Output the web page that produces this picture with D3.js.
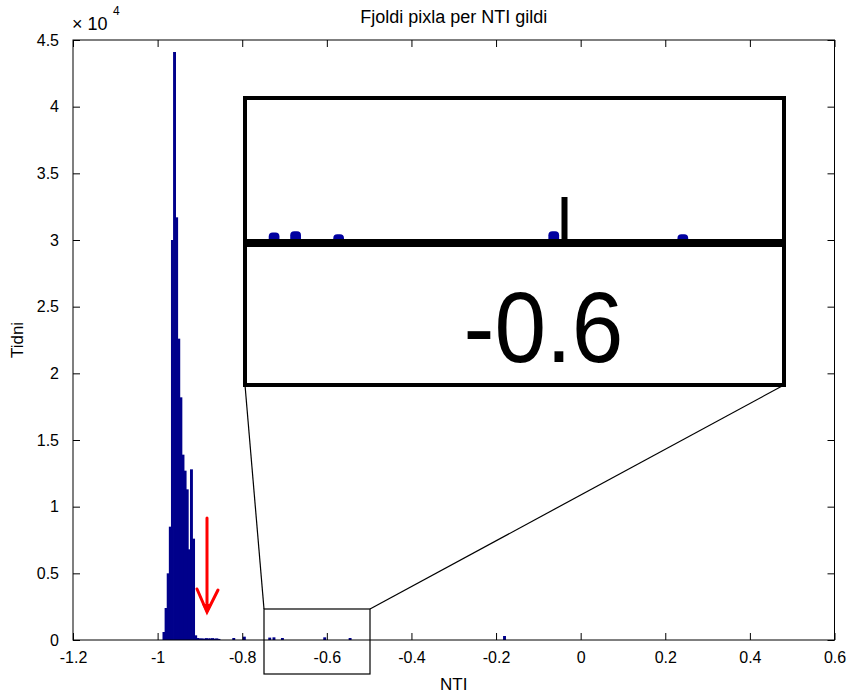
<!DOCTYPE html>
<html>
<head>
<meta charset="utf-8">
<script src="https://cdn.jsdelivr.net/npm/d3@7"></script>
<style>
  body { margin: 0; background: white; }
  text { font-family: "Liberation Sans", Arial, sans-serif; fill: black; }
</style>
</head>
<body>
<div id="chart"></div>
<script>
//Size of the page
var w=849;
var h=693;

//Histogram bins (left edge of each bin, width 0.005) and pixel counts
var binWidth=0.005;
var binLeft=[-0.9875,-0.9825,-0.9775,-0.9725,-0.9675,-0.9625,-0.9575,-0.9525,-0.9475,-0.9425,
             -0.9375,-0.9325,-0.9275,-0.9225,-0.9175,
             -0.9125,-0.9075,-0.9025,-0.8975,-0.8925,-0.8875,-0.8825,-0.8775,-0.8725,-0.8675,
             -0.8625,-0.8575,-0.8225,-0.7975,-0.7375,-0.7275,-0.7075,-0.6075,-0.5475,-0.1825];
var counts=[600,2400,5000,8500,30000,44100,31700,22600,18200,13900,
            12700,11300,6800,12800,7600,
            350,150,120,120,100,140,120,120,140,100,
            120,80,150,250,180,200,150,200,150,300];

//Ticks
var xTicks=[-1.2,-1,-0.8,-0.6,-0.4,-0.2,0,0.2,0.4,0.6];
var xTickLabels=["-1.2","-1","-0.8","-0.6","-0.4","-0.2","0","0.2","0.4","0.6"];
var yTicks=[0,5000,10000,15000,20000,25000,30000,35000,40000,45000];
var yTickLabels=["0","0.5","1","1.5","2","2.5","3","3.5","4","4.5"];

//Texts
var title="Fjoldi pixla per NTI gildi";
var xLabel="NTI";
var yLabel="Tidni";
var insetLabel="-0.6";

//Tick shown magnified in the inset
var zoomCenterTick=-0.6;

var barColor="#00008b";

var svg=d3.select("#chart")
          .append("svg")
          .attr("width",w)
          .attr("height",h);

//Plot area (pixels)
var pLeft=73, pRight=834.5, pTop=40, pBottom=640;

var x=d3.scaleLinear().domain([-1.2,0.6]).range([pLeft,pRight]);
var y=d3.scaleLinear().domain([0,45000]).range([pBottom,pTop]);

//Bars (a little overlap closes the seams between bins)
svg.append("g")
   .selectAll("rect")
   .data(binLeft)
   .enter()
   .append("rect")
   .attr("x",function(d) {return x(d)-0.4;})
   .attr("width",function(d) {return x(d+binWidth)-x(d)+0.8;})
   .attr("y",function(d,i) {return y(counts[i]);})
   .attr("height",function(d,i) {return y(0)-y(counts[i]);})
   .attr("fill",barColor);

//Axes box
svg.append("rect")
   .attr("x",pLeft)
   .attr("y",pTop)
   .attr("width",pRight-pLeft)
   .attr("height",pBottom-pTop)
   .attr("fill","none")
   .attr("stroke","black")
   .attr("stroke-width",1);

//Ticks (inside, MATLAB style) on all four sides
var tl=7;
var xAxisB=d3.axisBottom(x).tickValues(xTicks).tickSizeInner(-tl).tickSizeOuter(0)
             .tickFormat(function(d,i) {return xTickLabels[i];}).tickPadding(12);
var gx=svg.append("g").attr("transform","translate(0,"+pBottom+")").call(xAxisB);
gx.select(".domain").remove();
gx.selectAll("text").style("font-size","16px").style("font-family","'Liberation Sans', Arial, sans-serif");

var xAxisT=d3.axisTop(x).tickValues(xTicks).tickSizeInner(-tl).tickSizeOuter(0).tickFormat("");
var gxt=svg.append("g").attr("transform","translate(0,"+pTop+")").call(xAxisT);
gxt.select(".domain").remove();

var yAxisL=d3.axisLeft(y).tickValues(yTicks).tickSizeInner(-tl).tickSizeOuter(0)
             .tickFormat(function(d,i) {return yTickLabels[i];}).tickPadding(14);
var gy=svg.append("g").attr("transform","translate("+pLeft+",0)").call(yAxisL);
gy.select(".domain").remove();
gy.selectAll("text").style("font-size","16px").style("font-family","'Liberation Sans', Arial, sans-serif");

var yAxisR=d3.axisRight(y).tickValues(yTicks).tickSizeInner(-tl).tickSizeOuter(0).tickFormat("");
var gyr=svg.append("g").attr("transform","translate("+pRight+",0)").call(yAxisR);
gyr.select(".domain").remove();

//Exponent
svg.append("text").text("\u00d7 10").attr("x",pLeft-1).attr("y",30).style("font-size","18px");
svg.append("text").text("4").attr("x",113).attr("y",15).style("font-size","12px");

//Title and labels
svg.append("text").text(title)
   .attr("x",(pLeft+pRight)/2).attr("y",23)
   .attr("text-anchor","middle").style("font-size","18px");
svg.append("text").text(xLabel)
   .attr("x",(pLeft+pRight)/2).attr("y",690)
   .attr("text-anchor","middle").style("font-size","17px");
svg.append("text").text(yLabel)
   .attr("transform","translate(23,340) rotate(-90)")
   .attr("text-anchor","middle").style("font-size","17px");

//Small zoom rectangle on the axis
var zx0=264, zx1=370, zy0=609, zy1=674;
svg.append("rect")
   .attr("x",zx0).attr("y",zy0)
   .attr("width",zx1-zx0).attr("height",zy1-zy0)
   .attr("fill","none").attr("stroke","black").attr("stroke-width",1.2);

//Inset box and connector lines
var ix0=245, ix1=784, iy0=98, iy1=385;
svg.append("line").attr("x1",zx0).attr("y1",zy0).attr("x2",ix0).attr("y2",iy1)
   .attr("stroke","black").attr("stroke-width",1.2);
svg.append("line").attr("x1",zx1).attr("y1",zy0).attr("x2",ix1).attr("y2",iy1)
   .attr("stroke","black").attr("stroke-width",1.2);

var xIn=d3.scaleLinear().domain([x.invert(zx0),x.invert(zx1)]).range([ix0,ix1]);
var magY=(iy1-iy0)/(zy1-zy0);
var baseIn=243;
var yIn=d3.scaleLinear().domain([0,45000]).range([baseIn,baseIn-(pBottom-pTop)*magY]);

svg.append("clipPath").attr("id","insetClip")
   .append("rect").attr("x",ix0).attr("y",iy0).attr("width",ix1-ix0).attr("height",iy1-iy0);

var inset=svg.append("g").attr("clip-path","url(#insetClip)");
inset.append("rect").attr("x",ix0).attr("y",iy0).attr("width",ix1-ix0).attr("height",iy1-iy0)
     .attr("fill","white");
inset.selectAll(".ibar")
     .data(binLeft)
     .enter()
     .append("rect")
     .attr("class","ibar")
     .attr("x",function(d) {return xIn(d);})
     .attr("width",function(d) {return xIn(d+binWidth)-xIn(d);})
     .attr("y",function(d,i) {return yIn(counts[i]);})
     .attr("height",function(d,i) {return yIn(0)-yIn(counts[i]);})
     .attr("rx",4)
     .attr("fill","#0000a0");
inset.append("line").attr("x1",ix0).attr("x2",ix1).attr("y1",baseIn).attr("y2",baseIn)
     .attr("stroke","black").attr("stroke-width",8);
inset.append("line").attr("x1",xIn(zoomCenterTick)).attr("x2",xIn(zoomCenterTick))
     .attr("y1",baseIn).attr("y2",197)
     .attr("stroke","black").attr("stroke-width",6);
inset.append("text").text(insetLabel)
     .attr("x",xIn(zoomCenterTick)-21).attr("y",362)
     .attr("text-anchor","middle")
     .attr("textLength",160).attr("lengthAdjust","spacingAndGlyphs")
     .style("font-size","100px");
svg.append("rect").attr("x",ix0).attr("y",iy0).attr("width",ix1-ix0).attr("height",iy1-iy0)
   .attr("fill","none").attr("stroke","black").attr("stroke-width",4);

//Red arrow
var arrow=svg.append("g").attr("stroke","#ff0000").attr("stroke-width",3).attr("fill","none")
             .attr("stroke-linecap","round");
arrow.append("line").attr("x1",207).attr("y1",518).attr("x2",207).attr("y2",610);
arrow.append("path").attr("d","M197,589 L207,612 L218,590");
svg.append("path").attr("d","M202,604 L207,614 L212,604 Z").attr("fill","#ff0000");
</script>
</body>
</html>
